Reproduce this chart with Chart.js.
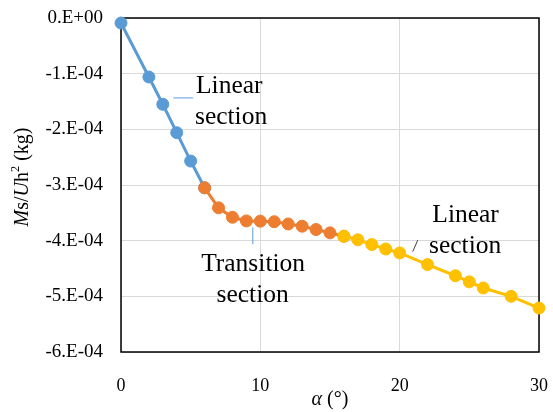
<!DOCTYPE html>
<html>
<head>
<meta charset="utf-8">
<script src="https://cdn.jsdelivr.net/npm/chart.js@4/dist/chart.umd.min.js"></script>
<style>
html,body{margin:0;padding:0;background:#fff;}
#wrap{width:553px;height:412px;position:relative;}
</style>
</head>
<body>
<div id="wrap"><canvas id="c" width="553" height="412"></canvas></div>
<script>
// Angle (degrees) and Ms/Uh^2 (kg) for each section
const linearAngles = [0, 2, 3, 4, 5, 6];
const linearValues = [-0.09e-4, -1.06e-4, -1.55e-4, -2.06e-4, -2.57e-4, -3.05e-4];

const transitionAngles = [6, 7, 8, 9, 10, 11, 12, 13, 14, 15, 16];
const transitionValues = [-3.05e-4, -3.41e-4, -3.58e-4, -3.645e-4, -3.65e-4, -3.66e-4, -3.70e-4, -3.74e-4, -3.80e-4, -3.86e-4, -3.92e-4];

const linear2Angles = [16, 17, 18, 19, 20, 22, 24, 25, 26, 28, 30];
const linear2Values = [-3.92e-4, -3.985e-4, -4.07e-4, -4.15e-4, -4.22e-4, -4.43e-4, -4.63e-4, -4.74e-4, -4.85e-4, -5.00e-4, -5.21e-4];

const xTicks = [0, 10, 20, 30];
const yTickLabels = ['-6.E-04', '-5.E-04', '-4.E-04', '-3.E-04', '-2.E-04', '-1.E-04', '0.E+00'];

const FONT = "'Liberation Serif', 'Times New Roman', serif";

function pts(xs, ys) { return xs.map((x, i) => ({x: x, y: ys[i]})); }

function ds(label, data, color, order) {
  return {
    label: label, data: data, borderColor: color, backgroundColor: color,
    pointBackgroundColor: color, pointBorderColor: color,
    borderWidth: 3, pointRadius: 6, pointBorderWidth: 1, pointHoverRadius: 6,
    tension: 0, clip: false, order: order
  };
}

function zeroPad(s) { s.paddingLeft = 0; s.paddingRight = 0; s.paddingTop = 0; s.paddingBottom = 0; }

function drawRich(ctx, parts, size, x, y) {
  let total = 0;
  const ws = parts.map(p => {
    const s = p.sup ? size * 0.62 : size;
    ctx.font = (p.italic ? 'italic ' : '') + s + 'px ' + FONT;
    const w = ctx.measureText(p.t).width;
    total += w;
    return w;
  });
  let cx = x - total / 2;
  parts.forEach((p, i) => {
    const s = p.sup ? size * 0.62 : size;
    ctx.font = (p.italic ? 'italic ' : '') + s + 'px ' + FONT;
    ctx.fillText(p.t, cx, p.sup ? y - size * 0.35 : y);
    cx += ws[i];
  });
}

const annot = {
  id: 'annot',
  beforeDatasetsDraw(chart) {
    const ctx = chart.ctx, a = chart.chartArea;
    ctx.save();
    ctx.strokeStyle = '#000';
    ctx.lineWidth = 1.5;
    ctx.strokeRect(a.left, a.top, a.right - a.left, a.bottom - a.top);
    ctx.restore();
  },
  afterDraw(chart) {
    const ctx = chart.ctx, xs = chart.scales.x, ys = chart.scales.y;
    const X = v => xs.getPixelForValue(v), Y = v => ys.getPixelForValue(v);
    ctx.save();
    ctx.fillStyle = '#000';
    ctx.textAlign = 'left';
    ctx.textBaseline = 'alphabetic';
    const f = 25.5;
    const centered = (t, x, y) => { ctx.font = f + 'px ' + FONT; const w = ctx.measureText(t).width; ctx.fillText(t, x - w / 2, y); };
    // left linear section label
    centered('Linear', X(7.77), Y(-1.34e-4));
    centered('section', X(7.9), Y(-1.90e-4));
    // transition label
    centered('Transition', X(9.48), Y(-4.54e-4));
    centered('section', X(9.45), Y(-5.10e-4));
    // right linear label
    centered('Linear', X(24.73), Y(-3.66e-4));
    centered('section', X(24.70), Y(-4.23e-4));
    // leader lines
    ctx.lineWidth = 1;
    ctx.strokeStyle = '#5B9BD5';
    ctx.beginPath();
    ctx.moveTo(X(3.76), Y(-1.436e-4)); ctx.lineTo(X(5.18), Y(-1.436e-4));
    ctx.moveTo(X(9.46), Y(-3.763e-4)); ctx.lineTo(X(9.46), Y(-4.063e-4));
    ctx.stroke();
    ctx.strokeStyle = '#404040';
    ctx.beginPath();
    ctx.moveTo(X(20.94), Y(-4.197e-4)); ctx.lineTo(X(21.30), Y(-3.99e-4));
    ctx.stroke();
    // axis titles
    ctx.textBaseline = 'middle';
    drawRich(ctx, [{t: 'α', italic: true}, {t: ' (°)'}], 20, (chart.chartArea.left + chart.chartArea.right) / 2, 400);
    ctx.translate(23, 177);
    ctx.rotate(-Math.PI / 2);
    drawRich(ctx, [{t: 'M', italic: true}, {t: 's/'}, {t: 'U', italic: true}, {t: 'h'}, {t: '2', sup: true}, {t: ' (kg)'}], 20, 0, 0);
    ctx.restore();
  }
};

new Chart(document.getElementById('c'), {
  type: 'line',
  data: {
    datasets: [
      ds('Linear section', pts(linearAngles, linearValues), '#5B9BD5', 2),
      ds('Transition section', pts(transitionAngles, transitionValues), '#ED7D31', 1),
      ds('Linear section 2', pts(linear2Angles, linear2Values), '#FFC000', 0)
    ]
  },
  options: {
    responsive: false,
    animation: false,
    events: [],
    layout: {padding: {top: 18, right: 14, left: 0, bottom: 0}},
    plugins: {legend: {display: false}, tooltip: {enabled: false}},
    scales: {
      x: {
        type: 'linear', min: 0, max: 30,
        afterBuildTicks: s => { s.ticks = xTicks.map(v => ({value: v})); },
        afterFit: s => { s.height = 60; zeroPad(s); },
        grid: {color: '#d9d9d9', lineWidth: 1, drawTicks: false},
        border: {display: false},
        ticks: {color: '#000', font: {family: FONT, size: 18}, padding: 23, maxRotation: 0}
      },
      y: {
        type: 'linear', min: -6e-4, max: 0,
        afterBuildTicks: s => { s.ticks = yTickLabels.map((t, i) => ({value: (i - 6) * 1e-4})); },
        afterFit: s => { s.width = 121; zeroPad(s); },
        grid: {color: '#d9d9d9', lineWidth: 1, drawTicks: false},
        border: {display: false},
        ticks: {
          color: '#000', font: {family: FONT, size: 19}, padding: 18,
          callback: (v) => yTickLabels[Math.round(v * 1e4) + 6]
        }
      }
    }
  },
  plugins: [annot]
});
</script>
</body>
</html>
